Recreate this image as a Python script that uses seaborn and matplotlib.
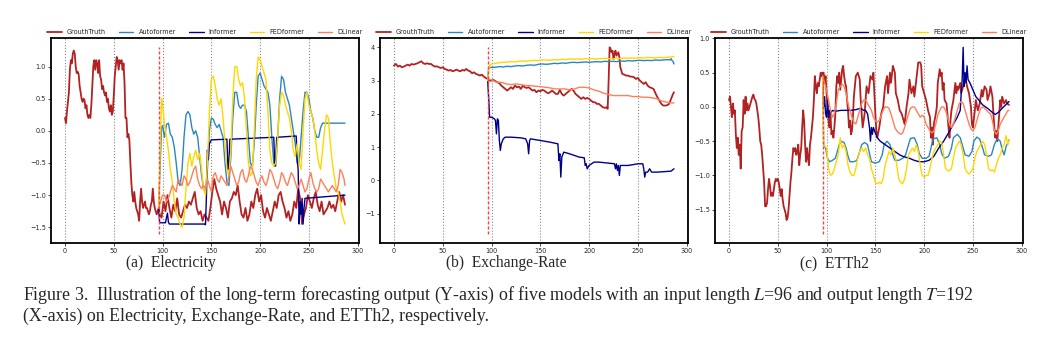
import numpy as np
import matplotlib
matplotlib.use("Agg")
import matplotlib.pyplot as plt
import seaborn as sns

# ---------------- data ----------------
MODELS = ["GrouthTruth", "Autoformer", "Informer", "FEDformer", "DLinear"]
PANEL_TITLES = ["(a)  Electricity", "(b)  Exchange-Rate", "(c)  ETTh2"]
X_TICKS = [0, 50, 100, 150, 200, 250, 300]

# ---- Electricity ----
elec_gt_in = [0.2, 0.12, 0.3, 0.45, 0.6, 0.95, 1.1, 1.05, 1.2, 1.25,
              1.2, 1.0, 0.9, 0.92, 0.88, 0.7, 0.6, 0.5, 0.45, 0.5,
              0.48, 0.35, 0.4, 0.25, 0.2, 0.25, 0.2, 0.4, 0.7, 1.0,
              1.1, 0.95, 1.1, 1.05, 0.9, 1.1, 0.85, 0.8, 0.65, 0.7,
              0.6, 0.55, 0.6, 0.45, 0.5, 0.35, 0.3, 0.4, 0.25, 0.3,
              0.55, 0.85, 1.0, 1.15, 1.1, 0.95, 1.1, 1.05, 1.1, 0.95,
              1.05, 0.75, 0.2, 0.2, -0.1, -0.05, -0.15, -0.5, -0.8, -1.0,
              -1.1, -0.95, -1.1, -1.2, -1.25, -1.3, -1.4, -1.1, -0.9, -1.1,
              -1.2, -1.15, -1.1, -1.2, -1.2, -1.25, -1.3, -1.25, -1.15, -1.1,
              -0.9, -1.1, -1.2, -1.25, -1.3, -1.25, -1.2]
elec_gt_out = [-1.3, -1.35, -1.1, -1.25, -1.0, -1.2, -1.35, -1.15, -1.25, -1.05,
               -1.3, -1.35, -1.25, -1.15, -1.2, -1.1, -1.15, -1.05, -0.95, -1.2,
               -1.3, -1.25, -1.4, -1.3, -1.35, -1.4, -1.2, -0.95, -0.75, -0.9,
               -1.0, -1.1, -1.3, -1.1, -1.2, -1.35, -1.1, -1.05, -0.95, -1.0,
               -0.85, -1.1, -1.3, -1.35, -1.2, -1.4, -1.3, -1.1, -1.2, -1.0,
               -0.9, -1.1, -1.0, -1.25, -1.35, -1.2, -1.3, -1.4, -1.25, -1.1,
               -1.2, -1.0, -0.95, -1.1, -1.2, -1.35, -1.25, -1.4, -1.3, -1.1,
               -1.2, -0.9, -1.05, -1.45, -1.3, -1.2, -1.0, -1.1, -1.2, -1.05,
               -0.95, -1.15, -1.25, -1.1, -1.3, -1.25, -1.2, -1.1, -1.2, -1.15,
               -1.25, -1.1, -0.95, -1.1, -1.0, -1.15]
elec_auto_t = [96, 99] + list(range(100, 264, 2)) + [264, 270, 287]
elec_auto = [-1.15, 0.05,
             0.08, -0.1, 0.1, 0.12, -0.05, -0.1, -0.25, -0.5, -0.8, -0.85,
             -0.6, -0.1, 0.25, 0.3, 0.25, 0.05, -0.05, 0.0, -0.1, -0.4,
             -0.7, -0.9, -0.95, -0.6, 0.0, 0.2, 0.18, 0.1, 0.05, 0.1,
             0.0, -0.1, -0.5, -0.8, -0.85, -0.4, 0.2, 0.6, 0.6, 0.4,
             0.35, 0.4, 0.4, 0.3, -0.1, -0.5, -0.55, -0.2, 0.4, 0.85,
             0.9, 0.8, 0.7, 0.65, 0.6, 0.4, -0.1, -0.5, -0.55, -0.1,
             0.5, 0.85, 0.8, 0.6, 0.5, 0.4, 0.2, 0.0, -0.2, -0.5,
             -0.5, -0.1, 0.3, 0.6, 0.6, 0.5, 0.3, 0.2, 0.0, -0.1,
             -0.1, 0.05,
             0.12, 0.12, 0.12]
elec_inf_t = [96, 97, 103, 104, 105, 106, 107, 108, 110, 143,
              144, 145, 146, 147, 148, 150, 166, 167, 168, 169,
              214, 215, 216, 217, 237, 238, 239, 240, 241, 242,
              243, 244, 245, 246, 287]
elec_inf = [-1.2, -1.43, -1.43, -1.35, -1.28, -1.42, -1.45, -1.45, -1.45, -1.45,
            -1.46, -1.0, -0.3, -0.45, -0.2, -0.14, -0.13, -0.6, -0.5, -0.13,
            -0.1, -0.55, -0.45, -0.1, -0.08, -0.45, -0.6, -1.45, -1.1, -1.3,
            -1.05, -1.45, -1.2, -1.05, -1.0]
elec_fed_t = [96, 99] + list(range(100, 288, 2)) + [287]
elec_fed = [-1.2, 0.5,
            0.4, 0.1, -0.1, -0.3, -0.6, -0.8, -1.1, -1.3, -1.35, -1.45,
            -1.5, -1.35, -0.9, -0.5, -0.35, -0.55, -0.4, -0.3, -0.45, -0.35,
            -0.6, -0.9, -1.0, -0.5, 0.3, 0.8, 0.85, 0.7, 0.5, 0.4,
            0.5, 0.2, -0.2, -0.6, -0.7, -0.3, 0.5, 1.0, 1.0, 0.8,
            0.7, 0.75, 0.5, 0.0, -0.5, -0.7, -0.65, 0.0, 0.8, 1.15,
            1.1, 1.0, 0.9, 0.8, 0.3, -0.3, -0.5, -0.55, -0.5, -0.1,
            0.4, 0.6, 0.55, 0.4, 0.3, 0.2, 0.0, -0.3, -0.4, -0.2,
            -0.5, -0.6, 0.0, 0.5, 0.6, 0.4, 0.3, 0.2, 0.0, -0.3,
            -0.5, -0.6, -0.3, 0.0, 0.25, 0.2, -0.2, -0.5, -0.7, -0.9,
            -0.95, -1.1, -1.3, -1.4,
            -1.45]
elec_dl_t = list(range(96, 288, 2)) + [287]
elec_dl = [-1.2, -1.1, -1.0, -1.0, -1.1, -1.05, -0.95, -0.85, -0.9, -0.95,
           -0.75, -0.8, -0.85, -0.7, -0.75, -0.85, -0.8, -0.7, -0.6, -0.55,
           -0.75, -0.85, -0.9, -0.85, -0.9, -0.75, -0.85, -0.95, -0.7, -0.65,
           -0.75, -0.8, -0.7, -0.75, -0.8, -0.85, -0.7, -0.55, -0.65, -0.75,
           -0.85, -0.8, -0.65, -0.6, -0.75, -0.8, -0.7, -0.55, -0.6, -0.7,
           -0.8, -0.85, -0.75, -0.7, -0.8, -0.85, -0.75, -0.6, -0.65, -0.75,
           -0.85, -0.9, -0.8, -0.65, -0.7, -0.8, -0.85, -0.75, -0.65, -0.7,
           -0.8, -0.9, -0.85, -0.75, -0.85, -0.95, -0.9, -0.75, -0.65, -0.8,
           -0.9, -0.95, -0.9, -0.75, -0.8, -0.85, -0.9, -0.95, -0.9, -0.85,
           -0.9, -0.95, -0.85, -0.6, -0.65, -0.75,
           -0.85]

# ---- Exchange-Rate ----
exch_gt_in = [3.45, 3.5, 3.42, 3.45, 3.4, 3.42, 3.45, 3.48, 3.45, 3.5,
              3.48, 3.5, 3.52, 3.55, 3.58, 3.52, 3.5, 3.52, 3.5, 3.5,
              3.45, 3.42, 3.43, 3.4, 3.38, 3.4, 3.35, 3.33, 3.3, 3.32,
              3.28, 3.3, 3.33, 3.3, 3.28, 3.32, 3.3, 3.35, 3.3, 3.28,
              3.22, 3.25, 3.2, 3.18, 3.15, 3.18, 3.12, 3.08, 3.05]
exch_gt_out_t = (list(range(98, 219, 2)) + list(range(219, 234))
                 + list(range(234, 287, 2)) + [287])
exch_gt_out = [3.0, 3.0, 3.02, 2.98, 2.95, 2.92, 2.85, 2.8, 2.75, 2.7,
               2.75, 2.8, 2.75, 2.85, 2.8, 2.82, 2.75, 2.85, 2.8, 2.78,
               2.8, 2.75, 2.7, 2.72, 2.65, 2.7, 2.68, 2.72, 2.7, 2.65,
               2.62, 2.65, 2.7, 2.65, 2.6, 2.6, 2.72, 2.6, 2.55, 2.6,
               2.65, 2.7, 2.75, 2.7, 2.6, 2.55, 2.5, 2.45, 2.5, 2.45,
               2.48, 2.45, 2.4, 2.35, 2.35, 2.3, 2.3, 2.25, 2.2, 2.18,
               2.2,
               2.15, 3.0, 4.0, 3.95, 3.85, 3.9, 3.65, 3.8, 3.9, 3.75,
               3.8, 3.85, 3.7, 3.4, 3.3,
               3.2, 3.18, 3.15, 3.15, 3.12, 3.12, 3.1, 3.05, 3.08, 3.0,
               2.95, 2.9, 2.95, 2.85, 2.8, 2.78, 2.75, 2.62, 2.5, 2.4,
               2.3, 2.25, 2.25, 2.26, 2.3, 2.45, 2.6,
               2.65]
exch_auto_t = [96, 97] + list(range(100, 284, 4)) + [283, 284, 285, 286, 287]
exch_auto = [3.0, 3.38,
             3.4, 3.4, 3.42, 3.41, 3.43, 3.42, 3.44, 3.45, 3.44, 3.46,
             3.47, 3.46, 3.49, 3.5, 3.49, 3.5, 3.52, 3.51, 3.53, 3.52,
             3.54, 3.55, 3.54, 3.55, 3.56, 3.55, 3.56, 3.57, 3.56, 3.58,
             3.57, 3.58, 3.57, 3.59, 3.58, 3.6, 3.59, 3.6, 3.61, 3.6,
             3.61, 3.6, 3.62, 3.61, 3.62, 3.63,
             3.62, 3.66, 3.6, 3.58, 3.5]
exch_inf_t = [96, 97, 98, 100, 103, 104, 105, 106, 107, 108,
              109, 110, 112, 114, 120, 130, 135, 137, 138, 139,
              140, 150, 160, 168, 169, 170, 171, 172, 174, 180,
              190, 195, 196, 197, 198, 200, 205, 210, 220, 226,
              227, 228, 229, 230, 231, 232, 240, 250, 255, 256,
              257, 258, 260, 262, 264, 270, 280, 284, 287]
exch_inf = [3.0, 2.5, 1.9, 1.9, 1.85, 1.8, 1.4, 1.85, 1.8, 1.2,
            0.9, 1.1, 1.25, 1.3, 1.3, 1.28, 1.25, 1.1, 0.8, 1.2,
            1.25, 1.2, 1.15, 1.1, 0.6, 0.8, 0.1, 0.7, 0.85, 0.8,
            0.7, 0.68, 0.45, 0.5, 0.35, 0.45, 0.55, 0.55, 0.52, 0.5,
            0.35, 0.5, 0.3, 0.45, 0.15, 0.45, 0.45, 0.5, 0.5, 0.35,
            0.1, 0.25, 0.25, 0.35, 0.25, 0.25, 0.27, 0.28, 0.35]
exch_fed_t = [96, 97, 98] + list(range(100, 288, 4)) + [287]
exch_fed = [3.0, 3.3, 3.45,
            3.5, 3.52, 3.54, 3.55, 3.56, 3.57, 3.56, 3.58, 3.59, 3.58,
            3.6, 3.61, 3.6, 3.62, 3.62, 3.61, 3.63, 3.62, 3.64, 3.63,
            3.65, 3.64, 3.65, 3.64, 3.66, 3.65, 3.66, 3.65, 3.66, 3.67,
            3.66, 3.65, 3.67, 3.66, 3.68, 3.67, 3.68, 3.67, 3.69, 3.68,
            3.7, 3.69, 3.68, 3.7, 3.69, 3.7, 3.71,
            3.73]
exch_dl_t = [96] + list(range(100, 290, 5)) + [287]
exch_dl = [3.05,
           3.02, 2.95, 2.95, 2.9, 2.88, 2.9, 2.88, 2.85, 2.85, 2.83,
           2.82, 2.8, 2.78, 2.75, 2.75, 2.75, 2.72, 2.75, 2.8, 2.8,
           2.78, 2.72, 2.68, 2.62, 2.58, 2.55, 2.55, 2.55, 2.55, 2.52,
           2.52, 2.5, 2.5, 2.48, 2.45, 2.38, 2.35, 2.33,
           2.33]

# ---- ETTh2 ----
etth_gt_in = [0.1, 0.15, 0.0, -0.15, 0.05, -0.1, -0.05, -0.4, -0.6, -0.45,
              -0.7, -0.55, -0.9, -0.35, -0.3, 0.1, -0.1, 0.15, -0.05, 0.05,
              -0.05, 0.0, 0.05, 0.1, 0.15, 0.18, 0.12, 0.1, 0.05, -0.05,
              -0.15, -0.3, -0.5, -0.55, -0.7, -0.9, -1.1, -1.45, -1.45, -1.4,
              -1.2, -1.05, -1.15, -1.3, -1.25, -1.3, -1.2, -1.1, -1.05, -1.08,
              -1.05, -1.1, -1.2, -1.3, -1.2, -1.35, -1.45, -1.5, -1.55, -1.65,
              -1.62, -1.5, -1.3, -1.1, -0.95, -0.75, -0.6, -0.65, -0.6, -0.7,
              -0.65, -0.55, -0.85, -0.7, -0.6, -0.3, -0.05, -0.2, -0.55, -0.8,
              -0.6, -0.75, -0.85, -0.55, -0.45, -0.3, -0.15, 0.1, 0.45, 0.3,
              0.2, 0.35, 0.3, 0.4, 0.5, 0.45, 0.5]
etth_gt_out_t = [97, 98, 99, 100, 101, 102, 103, 104, 105, 106,
                 107, 108, 109, 110, 111, 112, 113, 114, 115, 116,
                 117, 118, 119, 120, 121, 122, 123, 124, 125, 126,
                 127, 128, 129, 130, 132, 134, 135, 137, 139, 141,
                 143, 145, 147, 148, 149, 150, 151, 152, 154, 156,
                 158, 160, 162, 163, 165, 166, 168, 170, 171, 173,
                 175, 177, 179, 180, 182, 184, 185, 187, 189, 190,
                 192, 194, 196, 197, 198, 200, 202, 204, 206, 207,
                 208, 209, 210, 212, 213, 214, 216, 217, 218, 219,
                 220, 221, 223, 225, 226, 227, 228, 230, 232, 233,
                 234, 235, 237, 238, 240, 242, 244, 246, 248, 249,
                 250, 252, 253, 255, 257, 259, 260, 262, 264, 265,
                 267, 268, 270, 271, 272, 273, 274, 275, 276, 278,
                 279, 280, 282, 284, 285, 287]
etth_gt_out = [0.5, 0.35, 0.45, 0.2, 0.0, -0.2, -0.3, -0.1, -0.4, -0.35,
               -0.45, -0.3, -0.1, 0.3, 0.45, 0.35, 0.5, 0.25, 0.4, 0.55,
               0.6, 0.45, 0.35, 0.3, 0.1, -0.05, -0.3, -0.2, -0.4, -0.35,
               -0.15, 0.15, 0.3, 0.45, 0.5, 0.4, 0.1, -0.3, -0.1, 0.3,
               0.2, 0.45, 0.4, 0.5, 0.2, -0.1, -0.35, -0.45, -0.3, -0.1,
               0.0, 0.3, 0.45, 0.2, 0.5, 0.35, 0.6, 0.5, 0.2, 0.1,
               -0.05, -0.1, -0.2, -0.25, 0.0, 0.2, 0.4, 0.2, 0.3, 0.15,
               0.4, 0.65, 0.65, 0.6, 0.3, 0.2, 0.1, -0.05, -0.15, -0.45,
               -0.3, -0.55, -0.25, -0.1, 0.0, 0.35, 0.55, 0.45, 0.5, 0.25,
               0.35, 0.1, 0.05, -0.3, -0.45, -0.2, -0.05, 0.1, 0.35, 0.2,
               0.3, 0.25, 0.35, 0.2, 0.3, 0.45, 0.3, 0.2, 0.0, -0.25,
               -0.3, -0.05, 0.1, -0.05, 0.05, 0.25, 0.15, 0.3, 0.25, 0.1,
               0.2, 0.3, 0.15, -0.1, -0.3, -0.45, -0.35, -0.5, -0.3, 0.1,
               0.0, 0.15, 0.05, 0.1, 0.05, 0.03]
etth_auto_t = [96, 97, 99, 101, 103, 106, 109, 111, 113, 115,
               118, 120, 122, 124, 128, 131, 134, 136, 139, 142,
               144, 146, 150, 154, 157, 159, 162, 165, 168, 170,
               174, 178, 181, 184, 186, 190, 193, 195, 198, 202,
               205, 207, 209, 213, 216, 218, 221, 225, 228, 230,
               234, 237, 240, 242, 246, 249, 251, 254, 257, 260,
               262, 266, 269, 272, 275, 278, 280, 282, 284, 286,
               287]
etth_auto = [0.45, -0.55, -0.6, -0.75, -0.8, -0.78, -0.75, -0.65, -0.55, -0.5,
             -0.52, -0.6, -0.72, -0.8, -0.8, -0.78, -0.65, -0.55, -0.52, -0.55,
             -0.68, -0.8, -0.82, -0.8, -0.7, -0.55, -0.5, -0.55, -0.7, -0.78,
             -0.78, -0.75, -0.7, -0.55, -0.46, -0.45, -0.55, -0.68, -0.75, -0.75,
             -0.72, -0.6, -0.47, -0.45, -0.55, -0.68, -0.75, -0.72, -0.6, -0.45,
             -0.4, -0.45, -0.6, -0.7, -0.72, -0.65, -0.5, -0.44, -0.47, -0.6,
             -0.7, -0.72, -0.7, -0.55, -0.46, -0.5, -0.62, -0.7, -0.58, -0.52,
             -0.48]
etth_inf_t = [96, 97, 98, 99, 100, 101, 102, 103, 104, 106,
              108, 110, 115, 120, 125, 130, 135, 138, 140, 142,
              144, 145, 146, 147, 148, 150, 152, 155, 160, 165,
              170, 175, 178, 180, 185, 190, 195, 200, 205, 210,
              215, 220, 225, 230, 234, 237, 238, 239, 240, 241,
              242, 243, 244, 245, 247, 250, 253, 256, 260, 265,
              270, 273, 276, 280, 285, 287]
etth_inf = [0.45, 0.0, 0.15, -0.1, -0.15, 0.1, -0.15, -0.05, -0.1, -0.05,
            -0.06, -0.06, -0.05, -0.05, -0.05, -0.04, -0.02, -0.05, -0.05, -0.1,
            -0.3, -0.5, -0.3, -0.4, -0.3, -0.38, -0.45, -0.5, -0.55, -0.6,
            -0.65, -0.7, -0.72, -0.73, -0.75, -0.78, -0.8, -0.8, -0.78, -0.72,
            -0.6, -0.5, -0.38, -0.25, -0.15, -0.05, 0.2, 0.4, 0.87, 0.3,
            0.5, 0.35, 0.6, 0.4, 0.35, 0.25, 0.15, 0.1, 0.03, -0.02,
            -0.08, -0.11, -0.08, -0.02, 0.05, 0.08]
etth_fed_t = [96, 97] + list(range(100, 288, 2)) + [287]
etth_fed = [0.45, -0.55,
            -0.6, -0.9, -1.0, -0.98, -0.9, -0.8, -0.7, -0.45, -0.6, -0.55,
            -0.65, -0.85, -0.95, -1.0, -1.0, -0.9, -0.75, -0.65, -0.6, -0.65,
            -0.6, -0.7, -0.75, -0.9, -1.0, -1.1, -1.12, -1.1, -1.12, -1.05,
            -0.85, -0.75, -0.65, -0.7, -0.6, -0.7, -0.85, -1.05, -1.1, -1.12,
            -1.05, -0.9, -0.7, -0.65, -0.6, -0.65, -0.55, -0.65, -0.85, -1.0,
            -1.02, -1.0, -1.0, -0.9, -0.75, -0.65, -0.6, -0.55, -0.5, -0.52,
            -0.7, -0.9, -0.93, -0.93, -0.9, -0.75, -0.6, -0.55, -0.5, -0.55,
            -0.7, -0.9, -0.95, -0.98, -0.95, -0.9, -0.75, -0.65, -0.6, -0.55,
            -0.5, -0.55, -0.7, -0.9, -0.93, -0.92, -0.95, -0.85, -0.75, -0.7,
            -0.6, -0.55, -0.42, -0.55,
            -0.48]
etth_dl_t = list(range(96, 288, 2)) + [287]
etth_dl = [0.45, 0.35, 0.25, 0.1, -0.05, -0.15, -0.1, 0.05, 0.25, 0.3,
           0.33, 0.3, 0.2, 0.05, -0.05, -0.15, -0.22, -0.25, -0.15, -0.05,
           0.05, 0.1, 0.1, 0.05, 0.0, -0.05, -0.15, -0.2, -0.22, -0.2,
           -0.12, -0.05, 0.0, 0.0, -0.02, -0.1, -0.2, -0.3, -0.35, -0.38,
           -0.4, -0.38, -0.3, -0.2, -0.1, -0.02, 0.0, 0.0, -0.05, -0.1,
           -0.15, -0.12, -0.15, -0.25, -0.3, -0.35, -0.38, -0.35, -0.25, -0.12,
           -0.05, 0.0, 0.0, -0.05, -0.15, -0.25, -0.3, -0.25, -0.15, -0.05,
           0.05, 0.08, 0.05, -0.05, -0.15, -0.25, -0.32, -0.35, -0.3, -0.2,
           -0.1, -0.02, 0.0, -0.02, -0.05, -0.08, -0.1, -0.2, -0.35, -0.4,
           -0.35, -0.25, -0.2, -0.15, -0.1, -0.05,
           -0.05]

# vertical split marker extents (input/output boundary at t=96)
SPLIT_T = 96
elec_split = (-1.6, 1.3)
exch_split = (-1.6, 4.0)
etth_split = (-1.85, 0.42)

# ---------------- style ----------------
COLORS = {"GrouthTruth": "#b22222", "Autoformer": "#2b86c5", "Informer": "#00008b",
          "FEDformer": "#ffd700", "DLinear": "#ff7f5a"}
WIDTHS = {"GrouthTruth": 1.3, "Autoformer": 1.0, "Informer": 1.0,
          "FEDformer": 1.0, "DLinear": 1.0}

sns.set_style("ticks")
plt.rcParams['font.family'] = ['DejaVu Sans']
plt.rcParams['mathtext.fontset'] = 'stix'

FS = 4.7


def build(gt_in_t, gt_in, gt_out_t, gt_out, at, a, it, i, ft, f, dt, d):
    return {
        "GrouthTruth": (list(gt_in_t) + list(gt_out_t), list(gt_in) + list(gt_out)),
        "Autoformer": (at, a),
        "Informer": (it, i),
        "FEDformer": (ft, f),
        "DLinear": (dt, d),
    }


panels = [
    (build(range(0, 97), elec_gt_in, range(97, 288, 2), elec_gt_out,
           elec_auto_t, elec_auto, elec_inf_t, elec_inf, elec_fed_t, elec_fed,
           elec_dl_t, elec_dl), elec_split),
    (build(range(0, 97, 2), exch_gt_in, exch_gt_out_t, exch_gt_out,
           exch_auto_t, exch_auto, exch_inf_t, exch_inf, exch_fed_t, exch_fed,
           exch_dl_t, exch_dl), exch_split),
    (build(range(0, 97), etth_gt_in, etth_gt_out_t, etth_gt_out,
           etth_auto_t, etth_auto, etth_inf_t, etth_inf, etth_fed_t, etth_fed,
           etth_dl_t, etth_dl), etth_split),
]

fig = plt.figure(figsize=(10.59, 3.38), dpi=100)
lefts_px = [51, 380, 715]
W_PX, H_PX = 1059, 338
ax_w = 308 / W_PX
ax_b = (H_PX - 243) / H_PX
ax_h = 205 / H_PX

for k, ((series, split), lp) in enumerate(zip(panels, lefts_px)):
    ax = fig.add_axes([lp / W_PX, ax_b, ax_w, ax_h])
    for name in MODELS:
        t, y = series[name]
        assert len(t) == len(y), (k, name, len(t), len(y))
        sns.lineplot(x=np.asarray(t, float), y=np.asarray(y, float), ax=ax,
                     color=COLORS[name], lw=WIDTHS[name], label=name,
                     estimator=None, sort=False)
    ax.vlines(SPLIT_T, split[0], split[1], colors="#ff4040",
              linestyles=(0, (2.2, 1.4)), lw=1.0, zorder=6)
    ax.set_xticks(X_TICKS)
    ax.grid(axis='x', linestyle=':', color='#888888', lw=0.8)
    ax.set_axisbelow(True)
    ax.tick_params(labelsize=FS, length=2.2, width=0.6, pad=1.5)
    for s in ax.spines.values():
        s.set_linewidth(1.3)
        s.set_color("black")
    ax.set_xlabel("")
    ax.set_ylabel("")
    h, l = ax.get_legend_handles_labels()
    ax.legend(h, l, ncol=5, loc='lower center', bbox_to_anchor=(0.5, 0.995),
              frameon=False, fontsize=FS, handlelength=2.2, columnspacing=2.0,
              handletextpad=0.8, borderaxespad=0.2)

cap_x = [171, 506, 835]
for txt, cx in zip(PANEL_TITLES, cap_x):
    fig.text(cx / W_PX, (H_PX - 263) / H_PX, txt, ha='center', va='center',
             family='Liberation Serif', fontsize=11.2)

fig.text(23 / W_PX, (H_PX - 295) / H_PX,
         "Figure 3.  Illustration of the long-term forecasting output (Y-axis) of five models "
         "with an input length $L$=96 and output length $T$=192",
         ha='left', va='center', family='Liberation Serif', fontsize=12.9)
fig.text(23 / W_PX, (H_PX - 316.5) / H_PX,
         "(X-axis) on Electricity, Exchange-Rate, and ETTh2, respectively.",
         ha='left', va='center', family='Liberation Serif', fontsize=12.9)

fig.savefig("out.png", dpi=100)
